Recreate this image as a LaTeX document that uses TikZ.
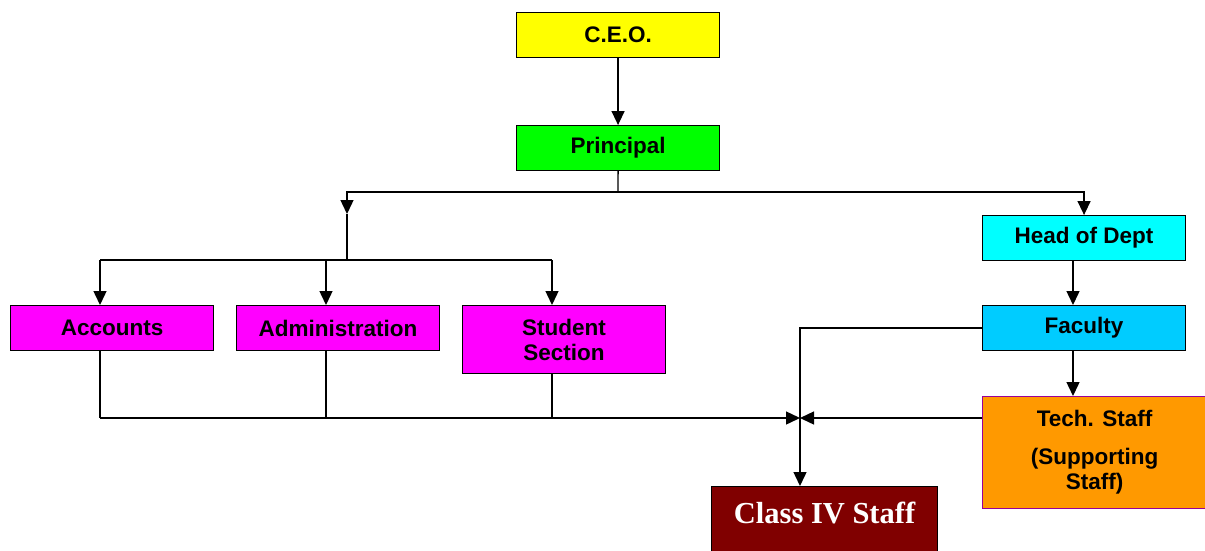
\documentclass[tikz,border=0pt]{standalone}
\usepackage{fontspec}
\setmainfont{Liberation Sans}
\newfontfamily\serifbf{Liberation Serif}
\usetikzlibrary{arrows.meta,calc}
\definecolor{ceoY}{HTML}{FFFF00}
\definecolor{prinG}{HTML}{00FF00}
\definecolor{headC}{HTML}{00FFFF}
\definecolor{facB}{HTML}{00CCFF}
\definecolor{magB}{HTML}{FF00FF}
\definecolor{techO}{HTML}{FF9900}
\definecolor{techBorder}{HTML}{990099}
\definecolor{classR}{HTML}{800000}
\tikzset{
  box/.style={draw=black, line width=1.1pt, anchor=north west, minimum width=203pt, minimum height=45pt,
    inner sep=0pt, align=center, font=\fontsize{22.5}{25}\selectfont\bfseries},
  conn/.style={line width=1.4pt, draw=black},
  arr/.style={conn, -{Triangle[length=14pt,width=13pt]}}
}
\begin{document}
\begin{tikzpicture}[x=1pt,y=-1pt]
\clip (0,0) rectangle (1205,550);
\fill[white] (0,0) rectangle (1205,550);
% nodes
\node[box, fill=ceoY] (ceo) at (516,12) {C.E.O.};
\node[box, fill=prinG] (principal) at (516,125) {Principal};
\node[box, fill=headC] (head) at (982,215) {Head of Dept};
\node[box, fill=facB] (faculty) at (982,305) {Faculty};
\node[box, fill=magB] (acc) at (10,305) {Accounts};
\node[box, fill=magB] (adm) at (236,305) {Administration};
\node[box, fill=magB, minimum height=68pt] (stu) at (462,305) {\rule{0pt}{15pt}Student\\Section};
\node[box, fill=techO, draw=techBorder, minimum width=224pt, minimum height=112pt] (tech) at (982,396)
  {Tech. Staff\\[13pt](Supporting\\Staff)};
\node[box, fill=classR, text=white, minimum width=226pt, minimum height=0pt,
  text height=30pt, text depth=30pt, inner ysep=7pt,
  font=\serifbf\fontsize{30.5}{32}\selectfont\bfseries] (class4) at (711,486) {Class IV Staff};
% coordinates
\coordinate (pdown) at (618,192);
\coordinate (j1) at (347,214);
\coordinate (j2) at (347,260);
\coordinate (m) at (800,418);
\coordinate (xa) at (100,260);
\coordinate (xb) at (326,260);
\coordinate (xc) at (552,260);
\coordinate (xf) at (1073,0);
\coordinate (ya) at (100,418);
\coordinate (yb) at (326,418);
\coordinate (yc) at (552,418);
\coordinate (xm) at (800,0);
% connectors
\draw[arr] (ceo.south) -- (principal.north);
\draw[conn] (principal.south) -- (pdown);
\draw[arr] (pdown) -| (j1);
\draw[arr] (pdown) -| (head.north);
\draw[conn] (j1) -- (j2);
\draw[conn] (xa) -- (xc);
\draw[arr] (xa) -- (xa |- acc.north);
\draw[arr] (xb) -- (xb |- adm.north);
\draw[arr] (xc) -- (xc |- stu.north);
\draw[arr] (xf |- head.south) -- (xf |- faculty.north);
\draw[arr] (xf |- faculty.south) -- (xf |- tech.north);
\draw[arr] (faculty.west) -| (xm |- class4.north);
\draw[conn] (xa |- acc.south) -- (ya);
\draw[conn] (xb |- adm.south) -- (yb);
\draw[conn] (xc |- stu.south) -- (yc);
\draw[arr] (ya) -- (m);
\draw[arr] (tech.west |- m) -- (m);
\end{tikzpicture}
\end{document}
